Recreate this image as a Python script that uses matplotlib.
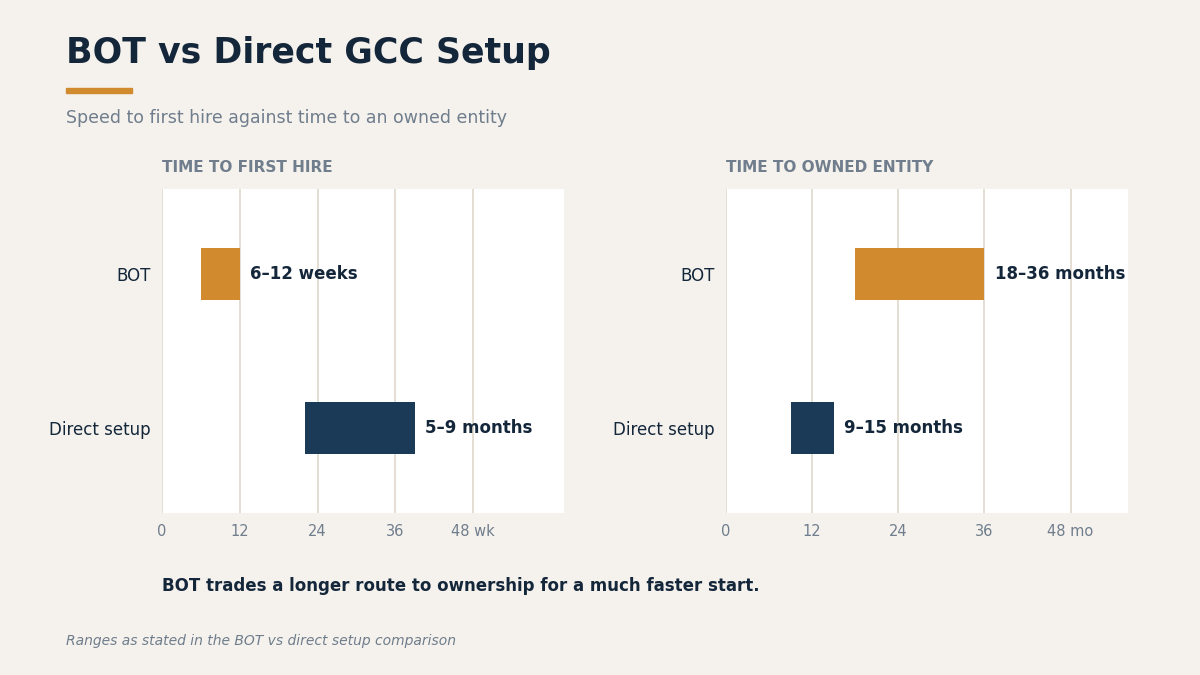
import matplotlib.pyplot as plt
from matplotlib.patches import Rectangle

BG = "#f5f2ed"
NAVY = "#13263a"
GREY = "#6f7d8c"
ORANGE = "#d18a2d"
DARK_BAR = "#1b3a57"
GRID = "#e2dbd0"

categories = ["BOT", "Direct setup"]

# time to first hire, in weeks
hire_start = [6, 22]
hire_end = [12, 39]
hire_labels = ["6\u201312 weeks", "5\u20139 months"]
hire_ticks = [0, 12, 24, 36, 48]
hire_ticklabels = ["0", "12", "24", "36", "48 wk"]

# time to owned entity, in months
entity_start = [18, 9]
entity_end = [36, 15]
entity_labels = ["18\u201336 months", "9\u201315 months"]
entity_ticks = [0, 12, 24, 36, 48]
entity_ticklabels = ["0", "12", "24", "36", "48 mo"]

bar_colors = [ORANGE, DARK_BAR]

plt.rcParams["font.family"] = ["DejaVu Sans"]

fig = plt.figure(figsize=(12, 6.75), dpi=100, facecolor=BG)


def panel(rect, title, starts, ends, labels, ticks, ticklabels, xmax):
    ax = fig.add_axes(rect)
    ax.set_facecolor("white")
    widths = [e - s for s, e in zip(starts, ends)]
    ax.barh(range(len(categories)), widths, left=starts, height=0.34,
            color=bar_colors, zorder=3)
    for i, (e, lab) in enumerate(zip(ends, labels)):
        ax.annotate(lab, (e, i), xytext=(7.5, 0), textcoords="offset points",
                    va="center", ha="left", fontsize=12, fontweight="bold",
                    color=NAVY, zorder=4)
    ax.set_xlim(0, xmax)
    ax.set_ylim(1.55, -0.55)
    ax.set_yticks(range(len(categories)))
    ax.set_yticklabels(categories, fontsize=12, color=NAVY)
    ax.set_xticks(ticks)
    ax.set_xticklabels(ticklabels, fontsize=10.5, color=GREY)
    ax.tick_params(length=0)
    ax.tick_params(axis="y", pad=8.3)
    ax.tick_params(axis="x", pad=8)
    for s in ax.spines.values():
        s.set_visible(False)
    ax.grid(axis="x", color=GRID, linewidth=1.3, zorder=1)
    ax.set_title(title, loc="left", fontsize=11, fontweight="bold",
                 color=GREY, pad=12.3)
    return ax


panel([0.135, 0.24, 0.335, 0.48], "TIME TO FIRST HIRE",
      hire_start, hire_end, hire_labels, hire_ticks, hire_ticklabels, 62)
panel([0.605, 0.24, 0.335, 0.48], "TIME TO OWNED ENTITY",
      entity_start, entity_end, entity_labels, entity_ticks, entity_ticklabels, 56)

fig.text(0.055, 0.921, "BOT vs Direct GCC Setup", fontsize=25,
         fontweight="bold", color=NAVY, va="center")
fig.patches.append(Rectangle((0.055, 0.862), 0.055, 0.007,
                             transform=fig.transFigure, color=ORANGE))
fig.text(0.055, 0.825, "Speed to first hire against time to an owned entity",
         fontsize=12.5, color=GREY, va="center")
fig.text(0.135, 0.132, "BOT trades a longer route to ownership for a much faster start.",
         fontsize=12, fontweight="bold", color=NAVY, va="center")
fig.text(0.055, 0.051, "Ranges as stated in the BOT vs direct setup comparison",
         fontsize=10, style="italic", color=GREY, va="center")

fig.savefig("out.png", dpi=100, facecolor=BG)
